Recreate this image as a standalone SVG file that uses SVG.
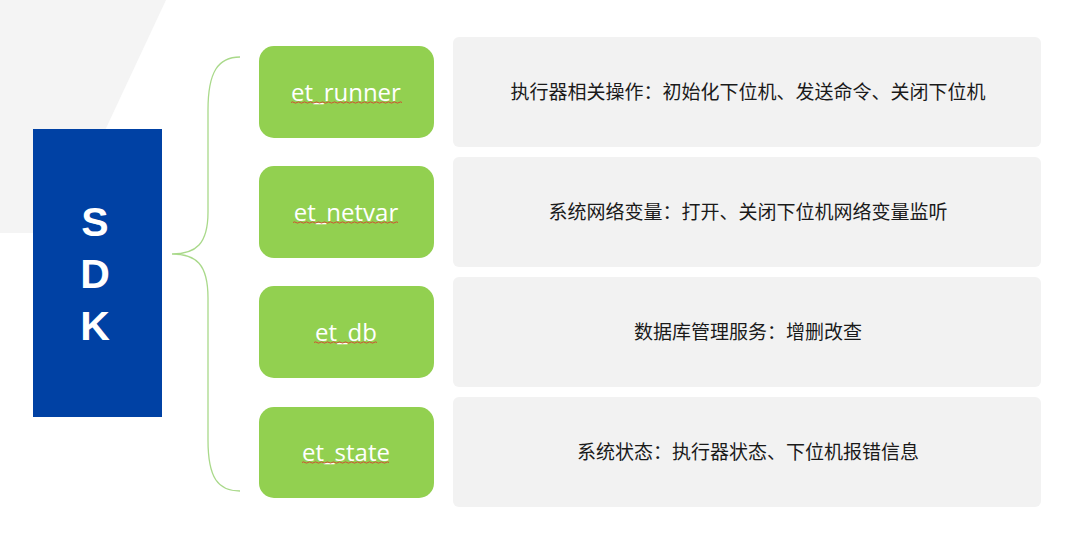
<svg xmlns="http://www.w3.org/2000/svg" width="1080" height="549" viewBox="0 0 1080 549">
<defs>
<style>
.green{fill:#92d050;}
.gray{fill:#f2f2f2;}
.lbl{font-family:"Open Sans","Noto Sans",sans-serif;font-size:24px;fill:#ffffff;text-anchor:middle;}
.desc{font-family:"Noto Sans CJK SC","Noto Sans",sans-serif;font-size:19px;fill:#1a1a1a;text-anchor:middle;}
.sdk{font-family:"Liberation Sans",Arial,sans-serif;font-size:41px;font-weight:bold;fill:#ffffff;text-anchor:middle;}
.squig{fill:none;stroke:#e0302a;stroke-width:0.8;}
</style>
</defs>
<rect x="0" y="0" width="1080" height="549" fill="#ffffff"/>
<polygon points="0,0 166,0 57,233 0,233" fill="#f4f4f4"/>
<g id="sdk">
<rect x="33" y="129" width="129" height="288" fill="#0041a4"/>
<text class="sdk" x="95" y="236">S</text>
<text class="sdk" x="95" y="288">D</text>
<text class="sdk" x="95" y="340">K</text>
</g>
<g id="connectors">
<path d="M240,57 C218,57 208,72 208,110 L208,212 C208,244 196,254 172,254 C196,254 208,264 208,298 L208,440 C208,478 218,491 240,491" fill="none" stroke="#a9d98a" stroke-width="1.3"/>
</g>
<g id="et_runner">
<rect class="green" x="259" y="46" width="175" height="92" rx="15"/>
<text class="lbl" x="346" y="101">et_runner</text>
<path class="squig" d="M291,102.5 q1.5,-1.2 3,0 t3,0 t3,0 t3,0 t3,0 t3,0 t3,0 t3,0 t3,0 t3,0 t3,0 t3,0 t3,0 t3,0 t3,0 t3,0 t3,0 t3,0 t3,0 t3,0 t3,0 t3,0 t3,0 t3,0 t3,0 t3,0 t3,0 t3,0 t3,0 t3,0 t3,0 t3,0 t3,0 t3,0 t3,0 t3,0 t3,0"/>
</g>
<g id="et_netvar">
<rect class="green" x="259" y="166" width="175" height="92" rx="15"/>
<text class="lbl" x="346" y="221">et_netvar</text>
<path class="squig" d="M293,222.5 q1.5,-1.2 3,0 t3,0 t3,0 t3,0 t3,0 t3,0 t3,0 t3,0 t3,0 t3,0 t3,0 t3,0 t3,0 t3,0 t3,0 t3,0 t3,0 t3,0 t3,0 t3,0 t3,0 t3,0 t3,0 t3,0 t3,0 t3,0 t3,0 t3,0 t3,0 t3,0 t3,0 t3,0 t3,0 t3,0 t3,0"/>
</g>
<g id="et_db">
<rect class="green" x="259" y="286" width="175" height="92" rx="15"/>
<text class="lbl" x="346" y="341">et_db</text>
<path class="squig" d="M314,342.5 q1.5,-1.2 3,0 t3,0 t3,0 t3,0 t3,0 t3,0 t3,0 t3,0 t3,0 t3,0 t3,0 t3,0 t3,0 t3,0 t3,0 t3,0 t3,0 t3,0 t3,0 t3,0 t3,0"/>
</g>
<g id="et_state">
<rect class="green" x="259" y="407" width="175" height="91" rx="15"/>
<text class="lbl" x="346" y="461">et_state</text>
<path class="squig" d="M302,462.5 q1.5,-1.2 3,0 t3,0 t3,0 t3,0 t3,0 t3,0 t3,0 t3,0 t3,0 t3,0 t3,0 t3,0 t3,0 t3,0 t3,0 t3,0 t3,0 t3,0 t3,0 t3,0 t3,0 t3,0 t3,0 t3,0 t3,0 t3,0 t3,0 t3,0 t3,0"/>
</g>
<g id="desc_runner">
<rect class="gray" x="453" y="37" width="588" height="110" rx="6"/>
<text class="desc" x="748" y="99">执行器相关操作：初始化下位机、发送命令、关闭下位机</text>
</g>
<g id="desc_netvar">
<rect class="gray" x="453" y="157" width="588" height="110" rx="6"/>
<text class="desc" x="748" y="219">系统网络变量：打开、关闭下位机网络变量监听</text>
</g>
<g id="desc_db">
<rect class="gray" x="453" y="277" width="588" height="110" rx="6"/>
<text class="desc" x="748" y="339">数据库管理服务：增删改查</text>
</g>
<g id="desc_state">
<rect class="gray" x="453" y="397" width="588" height="110" rx="6"/>
<text class="desc" x="748" y="459">系统状态：执行器状态、下位机报错信息</text>
</g>
</svg>
